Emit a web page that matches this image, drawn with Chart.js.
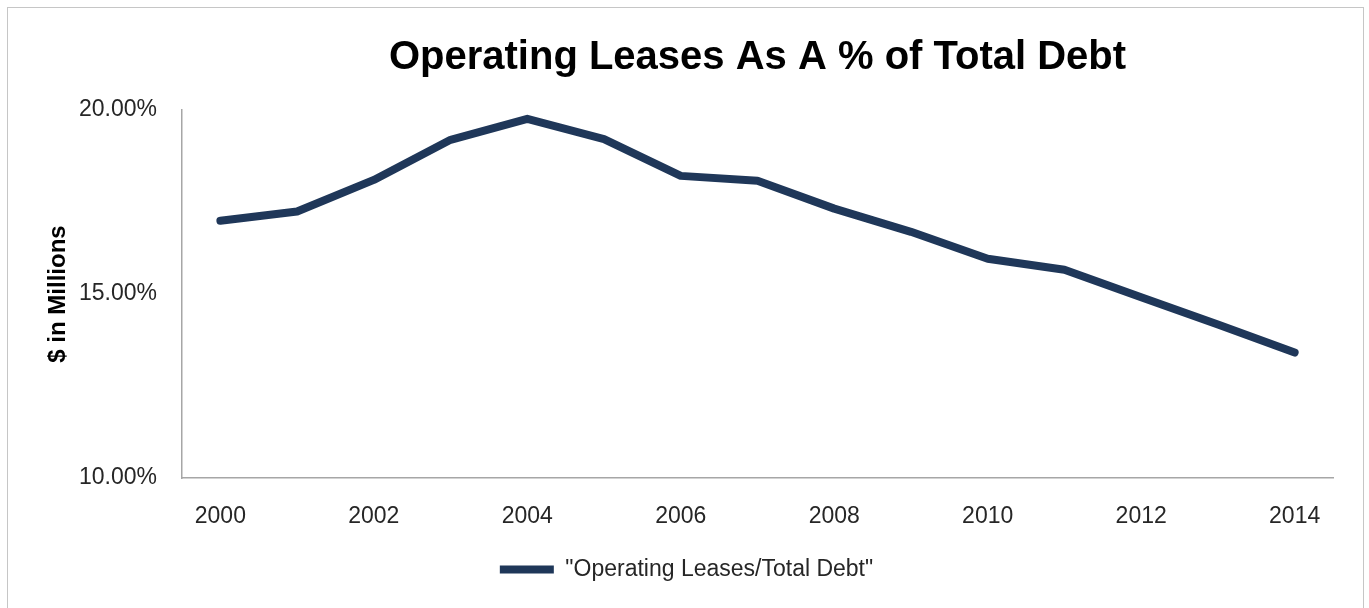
<!DOCTYPE html>
<html>
<head>
<meta charset="utf-8">
<script src="https://cdn.jsdelivr.net/npm/chart.js@4"></script>
<style>
    html, body { margin: 0; padding: 0; background: #fff; }
    #wrap { position: relative; width: 1369px; height: 608px; }
    #frame {
        position: absolute; left: 7px; top: 7px; width: 1355px; height: 610px;
        border: 1px solid #c6c6c6; border-bottom: none; pointer-events: none;
    }
</style>
</head>
<body>
<div id="wrap">
    <canvas id="chart" width="1369" height="608"></canvas>
    <div id="frame"></div>
</div>
<script>
// Values
const YEARS = ['2000', '2001', '2002', '2003', '2004', '2005', '2006', '2007',
               '2008', '2009', '2010', '2011', '2012', '2013', '2014'];
const LEASE_PCT = [16.99, 17.24, 18.10, 19.19, 19.76, 19.21, 18.21, 18.08,
                   17.32, 16.69, 15.96, 15.66, 14.91, 14.17, 13.41];
const Y_TICKS = [10, 15, 20];

const SERIES_LABEL = '"Operating Leases/Total Debt"';
const NAVY = '#1f3759';
const AXIS_GREY = '#a6a6a6';
const TEXT = '#262626';
const FONT = "'Liberation Sans', Arial, sans-serif";

// The legend in the reference sits a bit right of the canvas centre.
const nudgeLegend = {
    id: 'nudgeLegend',
    afterLayout(chart) {
        const lg = chart.legend;
        if (lg) { lg.left += 20; lg.right += 20; }
    },
};

new Chart(document.getElementById('chart'), {
    type: 'line',
    data: {
        labels: YEARS,
        datasets: [{
            label: SERIES_LABEL,
            data: LEASE_PCT,
            borderColor: NAVY,
            backgroundColor: NAVY,
            borderWidth: 8,
            borderCapStyle: 'round',
            borderJoinStyle: 'round',
            pointRadius: 0,
            pointHoverRadius: 0,
            tension: 0,
            fill: false,
        }],
    },
    plugins: [nudgeLegend],
    options: {
        responsive: false,
        animation: false,
        layout: { padding: { left: 0, right: 36, top: 0, bottom: 17 } },
        plugins: {
            title: {
                display: true,
                text: 'Operating Leases As A % of Total Debt',
                fullSize: false,
                color: '#000',
                font: { family: FONT, size: 40, weight: 'bold', lineHeight: 1.2 },
                padding: { top: 34, bottom: 28 },
            },
            legend: {
                position: 'bottom',
                labels: {
                    usePointStyle: true,
                    pointStyle: 'line',
                    pointStyleWidth: 54,
                    padding: 20,
                    color: TEXT,
                    font: { family: FONT, size: 23 },
                },
            },
            tooltip: { enabled: false },
        },
        scales: {
            x: {
                offset: true,
                grid: { display: false, drawTicks: false, offset: true },
                border: { display: true, color: AXIS_GREY, width: 1.5 },
                ticks: {
                    color: TEXT,
                    font: { family: FONT, size: 23 },
                    padding: 25,
                    maxRotation: 0,
                    autoSkip: false,
                    callback: (v, i) => (i % 2 === 0 ? YEARS[i] : ''),
                },
                afterFit: (s) => { s.height = 60; },
            },
            y: {
                min: 10,
                max: 20,
                afterBuildTicks: (s) => { s.ticks = Y_TICKS.map(v => ({ value: v })); },
                grid: { display: false, drawTicks: false },
                border: { display: true, color: AXIS_GREY, width: 1.5 },
                ticks: {
                    color: TEXT,
                    font: { family: FONT, size: 23 },
                    padding: 25,
                    callback: (v) => v.toFixed(2) + '%',
                },
                title: {
                    display: true,
                    text: '$ in Millions',
                    color: '#000',
                    font: { family: FONT, size: 24, weight: 'bold', lineHeight: 1.2 },
                    padding: { top: 44, bottom: 0 },
                },
                afterFit: (s) => { s.width = 182; },
            },
        },
    },
});
</script>
</body>
</html>
